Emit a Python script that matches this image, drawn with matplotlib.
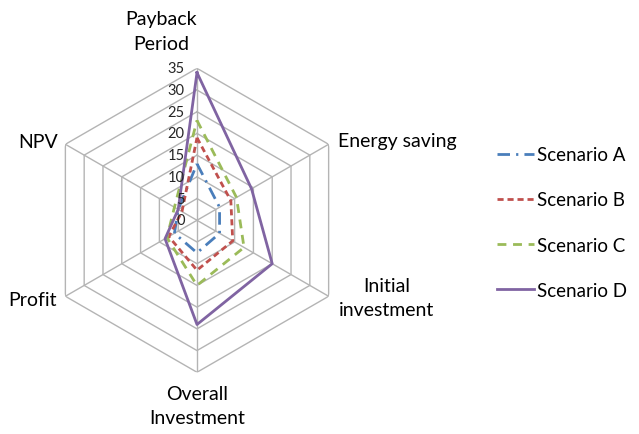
import numpy as np
import matplotlib
matplotlib.use("Agg")
import matplotlib.pyplot as plt

categories = ["Payback\nPeriod", "Energy saving", "Initial\ninvestment",
              "Overall\nInvestment", "Profit", "NPV"]
scenario_names = ["Scenario A", "Scenario B", "Scenario C", "Scenario D"]
scenario_a = [13, 6, 6, 7.5, 6, 5]
scenario_b = [19, 9, 9.5, 11.5, 7.5, 4]
scenario_c = [23, 10.5, 12.5, 15, 8, 6]
scenario_d = [34, 14.5, 20, 24, 8.5, 5]
ticks = [0, 5, 10, 15, 20, 25, 30, 35]

plt.rcParams['font.family'] = ['Lato', 'DejaVu Sans']

fig = plt.figure(figsize=(6.39, 4.35), dpi=100)
ax = fig.add_axes([0.0704, 0.1419, 0.4758, 0.6988], projection='polar')
ax.set_theta_offset(np.pi / 2)
ax.set_theta_direction(-1)
ax.set_ylim(0, 35)
ax.grid(False)
ax.spines['polar'].set_visible(False)
ax.set_xticks([])
ax.set_yticks([])
ax.patch.set_visible(False)

n = len(categories)
angles = np.linspace(0, 2 * np.pi, n, endpoint=False)
closed = np.append(angles, angles[0])

grid_color = '#b4b4b4'
for r in ticks[1:]:
    ax.plot(closed, [r] * (n + 1), color=grid_color, lw=1.0, zorder=1)
for a in angles:
    ax.plot([a, a], [0, ticks[-1]], color=grid_color, lw=1.0, zorder=1)

styles = [
    dict(color='#4a7ebb', dashes=(4.5, 2.2, 0.8, 2.2)),
    dict(color='#c0504d', dashes=(2.2, 1.4)),
    dict(color='#9bbb59', dashes=(3.2, 2.4)),
    dict(color='#8064a2'),
]
series = [scenario_a, scenario_b, scenario_c, scenario_d]
handles = []
for name, vals, st in zip(scenario_names, series, styles):
    v = list(vals) + [vals[0]]
    line, = ax.plot(closed, v, lw=2.0, label=name, zorder=3, **st)
    handles.append(line)

for t in ticks:
    ax.annotate(str(t), xy=(0, t), xytext=(-9, 0), textcoords='offset points',
                ha='right', va='center', fontsize=10.5, color='#262626')

W, H = 639, 435
label_pos = [(161, 32, 'center'), (397, 141, 'center'), (387, 299, 'center'),
             (197, 407, 'center'), (33, 300, 'center'), (38, 143, 'center')]
for lab, (x, y, ha) in zip(categories, label_pos):
    fig.text(x / W, 1 - y / H, lab, ha=ha, va='center', fontsize=14,
             linespacing=1.5, multialignment='center', color='black')

fig.legend(handles=handles, loc='center left',
           bbox_to_anchor=(497 / W, 1 - 223.5 / H), frameon=False,
           borderpad=0, borderaxespad=0,
           fontsize=13.5, handlelength=1.95, handletextpad=0.2, labelspacing=1.5)

fig.savefig('out.png', dpi=100)
